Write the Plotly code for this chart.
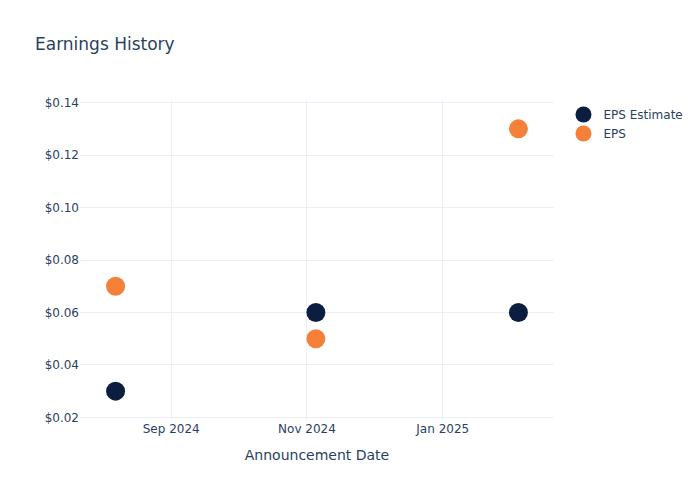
import plotly.graph_objects as go

# ── Data ──────────────────────────────────────────────────────────────────────
announce_dates = ["2024-08-07", "2024-11-05", "2025-02-04"]
eps_estimate = [0.03, 0.06, 0.06]
eps_actual = [0.07, 0.05, 0.13]

NAVY = "#0b1e3f"
ORANGE = "#f5803a"

# ── Chart ─────────────────────────────────────────────────────────────────────
fig = go.Figure()
fig.add_trace(go.Scatter(
    x=announce_dates,
    y=eps_estimate,
    mode="markers",
    name="EPS Estimate",
    marker=dict(size=19, color=NAVY),
))
fig.add_trace(go.Scatter(
    x=announce_dates,
    y=eps_actual,
    mode="markers",
    name="EPS",
    marker=dict(size=19, color=ORANGE),
))

fig.update_layout(
    template="plotly_white",
    width=700,
    height=500,
    font=dict(family="DejaVu Sans"),
    title=dict(text="Earnings History"),
    xaxis=dict(
        title="Announcement Date",
        tickformat="%b %Y",
        dtick="M2",
    ),
    yaxis=dict(
        tickprefix="$",
        tickformat=".2f",
        range=[0.019, 0.141],
        dtick=0.02,
    ),
)

# drop the browser's default body margin so the figure sits at the page corner
fig.write_html(
    "out.html",
    config={"displayModeBar": False},
    post_script="document.body.style.margin = '0';",
)
